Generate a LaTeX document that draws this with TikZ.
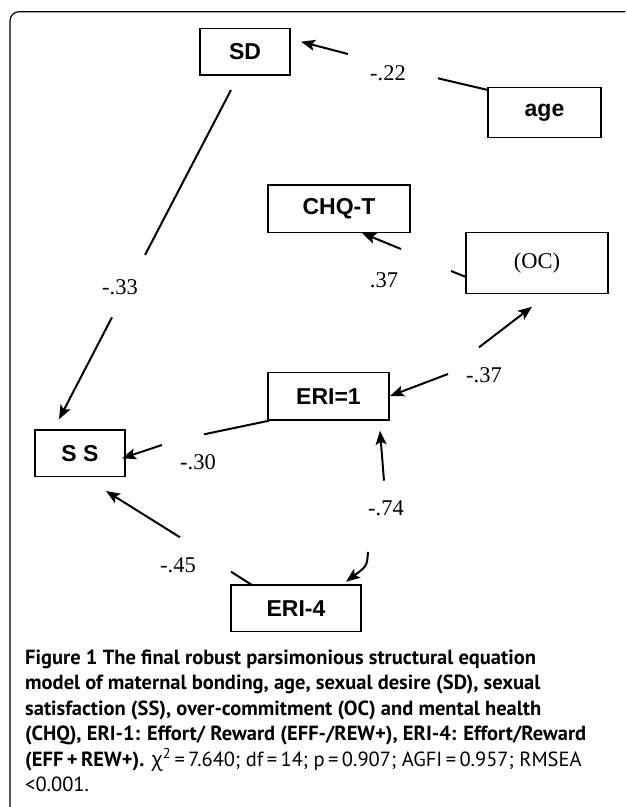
\documentclass[tikz,border=0pt]{standalone}
\usepackage{fontspec}
\setmainfont{Liberation Serif}
\newfontfamily\arialfont{Liberation Sans}
\newfontfamily\capfont{PT Sans}
\newfontfamily\grkfont{Open Sans}
\usetikzlibrary{arrows.meta}
\tikzset{
  box/.style={draw, line width=1.3pt, inner sep=0pt, font=\arialfont\bfseries\fontsize{23}{26}\selectfont},
  conn/.style={line width=2pt},
  arr/.style={conn, -{Stealth[length=14pt,width=11pt,inset=3pt]}},
  coef/.style={inner sep=0pt, font=\fontsize{22.5}{26}\selectfont},
  capline/.style={anchor=base west, inner sep=0pt, font=\capfont\fontsize{20.5}{24}\selectfont},
}
\begin{document}
\begin{tikzpicture}[x=1pt,y=-1pt]
\useasboundingbox (0,0) rectangle (627,807);
% frame
\draw[line width=1.2pt, rounded corners=9pt] (10,807) -- (10,11.7) -- (625,11.7);

% boxes
\node[box, minimum width=90pt,  minimum height=46.7pt] (SD)   at (245,51.7)  {SD};
\node[box, minimum width=113pt, minimum height=49.6pt] (age)  at (544.5,112.5) {age};
\node[box, minimum width=142pt, minimum height=47.3pt] (CHQ)  at (339,208.7) {CHQ-T};
\node[box, minimum width=142pt, minimum height=61pt, font=\fontsize{22.5}{26}\selectfont] (OC) at (537,262.8) {(OC)};
\node[box, minimum width=121pt, minimum height=47.3pt] (ERI1) at (328.5,396.3) {ERI=1};
\node[box, minimum width=90pt,  minimum height=46.7pt] (SS)   at (80,453.3) {S S};
\node[box, minimum width=130pt, minimum height=46.7pt] (ERI4) at (296,608.3) {ERI-4};

% coefficient labels
\node[coef] (l22) at (388,73)    {-.22};
\node[coef] (l33) at (120,287)   {-.33};
\node[coef] (l37a) at (384,280)  {.37};
\node[coef] (l37b) at (484,375)  {-.37};
\node[coef] (l30) at (198,461.7) {-.30};
\node[coef] (l74) at (386,508)   {-.74};
\node[coef] (l45) at (178,565)   {-.45};

% connector break points
\coordinate (a1) at (488,90);    \coordinate (a2) at (438,78.3);
\coordinate (a3) at (348,54);    \coordinate (a4) at (301,41.7);
\coordinate (b1) at (231,90);    \coordinate (b2) at (145,255);
\coordinate (b3) at (112,317.3); \coordinate (b4) at (59,419.3);
\coordinate (c1) at (466,277);   \coordinate (c2) at (451,271);
\coordinate (c3) at (401,249);   \coordinate (c4) at (362,233);
\coordinate (d1) at (479,347.3); \coordinate (d2) at (532,306.7);
\coordinate (e1) at (448,374);   \coordinate (e2) at (390,396);
\coordinate (f1) at (269,420.7); \coordinate (f2) at (204,434.3);
\coordinate (f3) at (162,445);   \coordinate (f4) at (122,458.3);
\coordinate (g1) at (384,480.7); \coordinate (g2) at (380,430.7);
\coordinate (h1) at (368,552);   \coordinate (h2) at (346,581.7);
\coordinate (i1) at (252,585);   \coordinate (i2) at (231,571.7);
\coordinate (i3) at (180,537.3); \coordinate (i4) at (106,491);

% age -> SD
\draw[conn] (a1) -- (a2);
\draw[arr] (a3) -- (a4);
% SD -> SS
\draw[conn] (b1) -- (b2);
\draw[arr] (b3) -- (b4);
% OC -> CHQ-T
\draw[conn] (c1) -- (c2);
\draw[arr] (c3) -- (c4);
% -.37 : to OC and to ERI=1
\draw[arr] (d1) -- (d2);
\draw[arr] (e1) -- (e2);
% ERI=1 -> SS
\draw[conn] (f1) -- (f2);
\draw[arr] (f3) -- (f4);
% -.74
\draw[arr] (g1) -- (g2);
\draw[arr] (h1) .. controls (367,566) .. (h2);
% ERI-4 -> SS
\draw[conn] (i1) -- (i2);
\draw[arr] (i3) -- (i4);

% caption
\node[capline] (cap1) at (25,664)   {\bfseries Figure 1 The final robust parsimonious structural equation};
\node[capline] (cap2) at (25,689.5) {\bfseries model of maternal bonding, age, sexual desire (SD), sexual};
\node[capline] (cap3) at (25,715)   {\bfseries satisfaction (SS), over-commitment (OC) and mental health};
\node[capline] (cap4) at (25,740.5) {\bfseries (CHQ), ERI-1: Effort/ Reward (EFF-/REW+), ERI-4: Effort/Reward};
\node[capline] (cap5) at (25,766)   {\textbf{(EFF\,+\,REW+).} {\grkfont χ}\textsuperscript{2}\,=\,7.640; df\,=\,14; p\,=\,0.907; AGFI\,=\,0.957; RMSEA};
\node[capline] (cap6) at (25,791.5) {<0.001.};
\end{tikzpicture}
\end{document}
